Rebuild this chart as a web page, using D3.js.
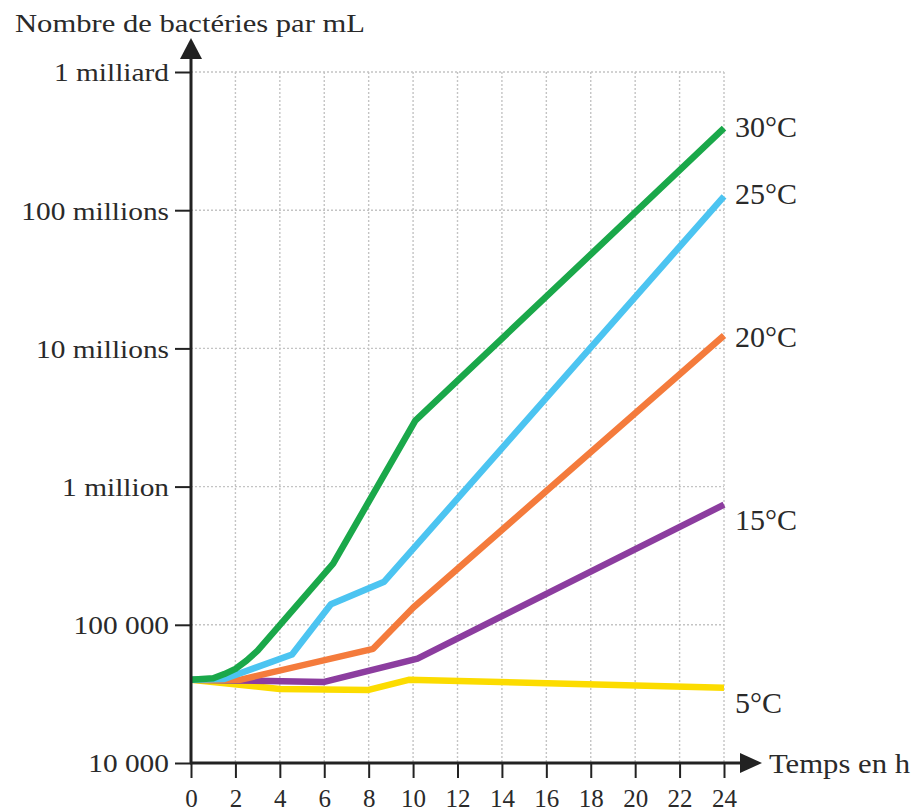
<!DOCTYPE html>
<html>
<head>
<meta charset="utf-8">
<script src="https://cdn.jsdelivr.net/npm/d3@7"></script>
<style>
  html, body { margin: 0; padding: 0; background: #fff; }
  svg { display: block; }
  text { font-family: "Liberation Serif", "Times New Roman", serif; fill: #2a2a2a; }
</style>
</head>
<body>
<svg id="chart" width="915" height="811"></svg>
<script>
// ---- Data ----
const xTicks = [0, 2, 4, 6, 8, 10, 12, 14, 16, 18, 20, 22, 24];
const yTicks = [1e4, 1e5, 1e6, 1e7, 1e8, 1e9];
const yTickLabels = ["10 000", "100 000", "1 million", "10 millions", "100 millions", "1 milliard"];

const seriesNames = ["5°C", "15°C", "20°C", "25°C", "30°C"];

const t5  = [0, 4, 8, 9.8, 24];
const n5  = [40000, 34300, 33800, 40000, 35000];

const t15 = [0, 2, 6, 10.2, 24];
const n15 = [40000, 39500, 38600, 57000, 740000];

const t20 = [0, 2.2, 8.2, 10, 24];
const n20 = [40000, 40000, 67000, 133000, 12400000];

const t25 = [0, 1.5, 4.55, 6.3, 8.7, 24];
const n25 = [40000, 40500, 61000, 141000, 205000, 126000000];

const t30 = [0, 1, 1.5, 2, 2.5, 3, 6.4, 10.1, 24];
const n30 = [40000, 41000, 44000, 48000, 55000, 65000, 277000, 3000000, 392000000];

const seriesT = [t5, t15, t20, t25, t30];
const seriesN = [n5, n15, n20, n25, n30];

// ---- Style ----
const colors = ["#fcdc00", "#8c3d9f", "#f47b3c", "#4cc4f1", "#1aa84a"];
const labelDy = [25, 25, 12, 8, 9];

const svg = d3.select("#chart");
const x = d3.scaleLinear().domain([0, 24]).range([191, 724]);
const y = d3.scaleLog().domain([1e4, 1e9]).range([763, 72]);

// grid
const grid = svg.append("g").attr("stroke", "#c4c4c4").attr("stroke-width", 1.4)
  .attr("stroke-dasharray", "2,2").attr("fill", "none");
grid.selectAll("line.v").data(xTicks.filter(d => d > 0)).join("line")
  .attr("x1", d => x(d)).attr("x2", d => x(d))
  .attr("y1", y(1e9)).attr("y2", y(1e4));
grid.selectAll("line.h").data(yTicks.filter(d => d > 1e4)).join("line")
  .attr("x1", x(0)).attr("x2", x(24))
  .attr("y1", d => y(d)).attr("y2", d => y(d));

// lines
const line = d3.line().x(d => x(d[0])).y(d => y(d[1]));
seriesT.forEach((ts, i) => {
  const pts = ts.map((t, j) => [t, seriesN[i][j]]);
  svg.append("path").datum(pts)
    .attr("d", line)
    .attr("fill", "none")
    .attr("stroke", colors[i])
    .attr("stroke-width", 6.5)
    .attr("stroke-linejoin", "round");
  const last = pts[pts.length - 1];
  svg.append("text")
    .attr("x", x(last[0]) + 11)
    .attr("y", y(last[1]) + labelDy[i])
    .attr("font-size", 30)
    .text(seriesNames[i]);
});

// axes
const axisColor = "#222";
const yAxis = svg.append("g").attr("transform", `translate(${x(0)},0)`)
  .call(d3.axisLeft(y).tickValues(yTicks).tickFormat((d, i) => yTickLabels[i]).tickSize(16).tickPadding(6));
yAxis.select(".domain").remove();
yAxis.selectAll(".tick line").attr("stroke", axisColor).attr("stroke-width", 2);
yAxis.selectAll(".tick text")
  .attr("font-size", 26).attr("fill", "#2a2a2a")
  .attr("font-family", "Liberation Serif, Times New Roman, serif")
  .attr("x", -22 / 1.13).attr("transform", "scale(1.13,1)")
  .attr("dy", "0.34em");

const xAxis = svg.append("g").attr("transform", `translate(0,${y(1e4)})`)
  .call(d3.axisBottom(x).tickValues(xTicks).tickSize(15).tickPadding(11));
xAxis.select(".domain").remove();
xAxis.selectAll(".tick line").attr("stroke", axisColor).attr("stroke-width", 2);
xAxis.selectAll(".tick text")
  .attr("font-size", 25).attr("fill", "#2a2a2a")
  .attr("font-family", "Liberation Serif, Times New Roman, serif");

// axis lines with arrows
svg.append("line").attr("x1", x(0)).attr("x2", x(0)).attr("y1", y(1e4) + 1).attr("y2", 56)
  .attr("stroke", axisColor).attr("stroke-width", 3);
svg.append("path").attr("d", `M${x(0)},38 L${x(0) - 11},59 L${x(0) + 11},59 Z`).attr("fill", axisColor);
svg.append("line").attr("x1", x(0) - 1).attr("x2", 742).attr("y1", y(1e4)).attr("y2", y(1e4))
  .attr("stroke", axisColor).attr("stroke-width", 3);
svg.append("path").attr("d", `M762,${y(1e4)} L740,${y(1e4) - 10} L740,${y(1e4) + 10} Z`).attr("fill", axisColor);

// titles
svg.append("text").attr("x", 15).attr("y", 32).attr("font-size", 26)
  .attr("textLength", 350).attr("lengthAdjust", "spacingAndGlyphs")
  .text("Nombre de bactéries par mL");
svg.append("text").attr("x", 769).attr("y", 773).attr("font-size", 27)
  .attr("textLength", 141).attr("lengthAdjust", "spacingAndGlyphs")
  .text("Temps en h");
</script>
</body>
</html>
